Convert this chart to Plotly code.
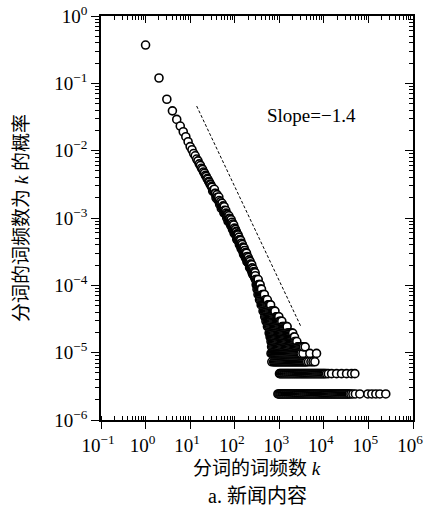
import plotly.graph_objects as go

# Number of distinct segmented words in the news corpus (normaliser for P(k))
N_WORDS = 410000

# Head of the distribution: word frequency k and how many words occur exactly k times
head_k = [1, 2, 3, 4, 5, 6, 7, 8, 9, 10,
          11, 12, 13, 14, 15, 16, 17, 18, 19, 20,
          21, 22, 23, 24, 25, 26, 27, 28, 29, 30, 31,
          33, 34, 36, 37, 39, 41, 43, 45, 47, 49, 51, 54, 56, 59, 61,
          62, 64, 65, 67, 68, 70, 72, 73, 75, 77, 79,
          80, 82, 84, 86, 88, 90, 92, 94, 96, 98, 100,
          102, 105, 107, 110, 112, 115, 117, 120, 122, 125,
          128, 131, 134, 137, 140, 143, 146, 150, 153, 156,
          160, 163, 167, 171, 174, 178, 182, 186, 190, 195,
          199, 204, 208, 213, 218, 223, 228, 233, 238, 243,
          248, 254, 260, 266, 272, 278, 284, 290]
head_n = [151700, 49200, 23800, 16000, 11950, 9520, 7830, 6610, 5570, 4710,
          4230, 3720, 3440, 3080, 2890, 2610, 2470, 2250, 2160, 1980,
          1900, 1760, 1700, 1580, 1540, 1430, 1395, 1305, 1280, 1200, 1180,
          1065, 1050, 955, 948, 866, 835, 768, 745, 688, 670, 622, 596, 553, 534, 498,
          512, 484, 455, 443, 462, 432, 396, 410, 405, 374, 352,
          367, 362, 336, 344, 322, 296, 304, 305, 276, 284, 268,
          246, 252, 258, 226, 238, 220, 198, 207, 205, 188,
          194, 176, 162, 170, 165, 160, 143, 144, 152, 135,
          126, 133, 115, 124, 117, 117, 101, 109, 104, 103,
          90, 96, 92, 90, 79, 84, 83, 79, 68, 74,
          73, 69, 60, 65, 64, 61, 55, 57]

# Remaining frequencies of the power-law band
band_k = [32, 35, 38, 40, 42, 44, 46, 48, 50, 52, 53, 55, 57, 58, 60,
          63, 66, 69, 71, 74, 76, 78, 81, 83, 85, 87, 89, 91, 93, 95, 97, 99,
          101, 104, 106, 109, 111, 114, 116, 119, 121, 124, 127, 130, 133, 136,
          139, 142, 145, 148, 152, 155, 158, 162, 165, 169, 173, 176, 180, 184,
          188, 193, 197, 201, 206, 211, 216, 221, 226, 231, 236, 241, 246, 251,
          257, 263, 269, 275, 281, 287]
band_n = [1031, 1094, 816, 911, 754, 840, 652, 714, 568, 678, 571, 620, 490, 603, 480,
          530, 413, 460, 365, 442, 355, 399, 320, 388, 316, 355, 279, 334, 271, 322, 244, 290,
          238, 278, 228, 255, 198, 234, 192, 230, 191, 213, 166, 195, 159, 191,
          144, 173, 143, 166, 130, 148, 118, 147, 118, 135, 106, 126, 105, 123,
          92, 110, 90, 106, 86, 98, 75, 93, 73, 85, 70, 83, 63, 74,
          59, 71, 57, 65, 53, 63]

# Tail: small word counts n and the frequencies k at which each count occurs
tail_levels = [50, 42, 36, 30, 25, 21, 17, 14, 12, 10, 8, 7, 6, 5, 4, 3, 2, 1]
tail_k = [
    [292, 309, 328, 336],
    [303, 321, 341, 360, 371],
    [316, 335, 356, 376, 399],
    [333, 354, 374, 397, 421, 446, 461],
    [360, 382, 406, 429, 455, 483, 511, 539],
    [392, 417, 441, 468, 495, 526, 556, 591, 625, 639],
    [432, 458, 486, 515, 547, 578, 614, 650, 690, 730, 775, 800],
    [471, 499, 530, 561, 596, 630, 669, 708, 752, 796, 845, 894, 949, 976],
    [502, 533, 564, 599, 634, 673, 712, 756, 800, 849, 899, 954, 1010, 1072, 1139],
    [542, 575, 609, 646, 684, 726, 769, 816, 864, 916, 970, 1030, 1090, 1157,
     1225, 1300, 1377, 1460, 1497],
    [592, 628, 665, 706, 747, 793, 839, 891, 943, 1001, 1060, 1124, 1191, 1263,
     1338, 1419, 1503, 1594, 1689, 1791, 1898, 1999],
    [622, 660, 699, 742, 785, 833, 882, 936, 991, 1052, 1114, 1182, 1252, 1328,
     1406, 1492, 1580, 1676, 1775, 1883, 1995, 2116, 2197],
    [652, 692, 733, 778, 823, 874, 925, 982, 1039, 1103, 1168, 1239, 1312, 1392,
     1474, 1564, 1657, 1757, 1861, 1974, 2091, 2218, 2350, 2477],
    [672, 713, 755, 801, 848, 900, 953, 1011, 1071, 1136, 1203, 1276, 1352, 1434,
     1519, 1611, 1707, 1810, 1918, 2034, 2155, 2285, 2421, 2567, 2720, 2884,
     3056, 3240, 3470, 3807],
    [652, 688, 726, 766, 808, 852, 899, 949, 1001, 1056, 1114, 1175, 1240, 1308,
     1380, 1456, 1536, 1620, 1709, 1803, 1902, 2007, 2117, 2234, 2356, 2486,
     2623, 2767, 2919, 3080, 3400, 4850, 6850],
    [680, 745, 786, 829, 875, 923, 974, 1027, 1084, 1143, 1206, 1272, 1342,
     1416, 1494, 1576, 1663, 1754, 1851, 1952, 2060, 2173, 2292, 2418, 2551,
     2692, 2840, 2996, 3161, 3334, 3518, 3711, 3915, 4130, 4520, 5130, 5700, 6300],
    [1010, 1063, 1127, 1183, 1255, 1318, 1396, 1467, 1554, 1633, 1729, 1818,
     1924, 2024, 2141, 2253, 2383, 2508, 2652, 2792, 2952, 3108, 3285, 3459,
     3656, 3850, 4068, 4286, 4528, 4771, 5039, 5310, 5608, 5911, 6242, 6579,
     6947, 7323, 7732, 8151, 8605, 9073, 9578, 10098, 10663, 11500, 12600,
     14900, 19300, 24900, 32300, 41800, 49600],
    [930, 979, 1036, 1090, 1155, 1213, 1280, 1357, 1425, 1509, 1586, 1680, 1766,
     1869, 1965, 2080, 2188, 2315, 2436, 2577, 2711, 2868, 3019, 3191, 3360,
     3552, 3740, 3953, 4162, 4399, 4633, 4897, 5157, 5449, 5741, 6066, 6390,
     6751, 7112, 7514, 7917, 8362, 8811, 9307, 9808, 10360, 10915, 11530,
     12150, 12832, 13524, 14281, 15052, 15895, 16755, 17690, 18648, 19690,
     20757, 21915, 23104, 24390, 25716, 27145, 28622, 30212, 31858, 33626,
     35460, 37426, 40500, 44800, 51000, 64100, 97000, 119000, 146600, 180000,
     245000],
]

# Power-law guide line
SLOPE = -1.4
fit_k = [14, 3100]
FIT_P0 = 0.046  # guide value at k = 14

x_ticks = [0.1, 1, 10, 100, 1000, 10000, 100000, 1000000]
x_ticktext = ["10<sup>−1</sup>", "10<sup>0</sup>", "10<sup>1</sup>", "10<sup>2</sup>",
              "10<sup>3</sup>", "10<sup>4</sup>", "10<sup>5</sup>", "10<sup>6</sup>"]
y_ticks = [1e-6, 1e-5, 1e-4, 1e-3, 1e-2, 1e-1, 1]
y_ticktext = ["10<sup>−6</sup>", "10<sup>−5</sup>", "10<sup>−4</sup>", "10<sup>−3</sup>",
              "10<sup>−2</sup>", "10<sup>−1</sup>", "10<sup>0</sup>"]

# Merge all (k, count) pairs, plotted in order of increasing frequency
points = list(zip(head_k, head_n)) + list(zip(band_k, band_n))
for n, row in zip(tail_levels, tail_k):
    points += [(k, n) for k in row]
points.sort(key=lambda t: t[0])
xs = [k for k, _ in points]
ys = [n / N_WORDS for _, n in points]

fit_p = [FIT_P0 * (k / fit_k[0]) ** SLOPE for k in fit_k]

SERIF = "Liberation Serif, serif"
MIXED = "Liberation Serif, Noto Sans CJK SC, serif"
W, H = 424, 508
L, R, T, B = 101, 11, 16, 88
PW, PH = W - L - R, H - T - B

fig = go.Figure()
fig.add_trace(go.Scatter(
    x=fit_k, y=fit_p, mode="lines",
    line=dict(color="black", width=1, dash="3px,2px"),
    hoverinfo="skip", showlegend=False))
fig.add_trace(go.Scatter(
    x=xs, y=ys, mode="markers",
    marker=dict(symbol="circle", size=8, color="white",
                line=dict(color="black", width=1.6)),
    showlegend=False))
# carrier for the mirrored top/right axes
fig.add_trace(go.Scatter(x=[None], y=[None], xaxis="x2", yaxis="y2",
                         showlegend=False, hoverinfo="skip"))

minor_in = dict(ticks="inside", ticklen=4, tickwidth=1, tickcolor="black",
                dtick="D1", showgrid=False)
minor_out = dict(ticks="outside", ticklen=4, tickwidth=1, tickcolor="black",
                 dtick="D1", showgrid=False)
common = dict(type="log", showline=True, linecolor="black", linewidth=1.5,
              showgrid=False, zeroline=False, tickcolor="black", tickwidth=1.2,
              tickmode="array", automargin=False)

fig.update_layout(
    width=W, height=H,
    margin=dict(l=L, r=R, t=T, b=B, autoexpand=False),
    paper_bgcolor="white", plot_bgcolor="white",
    showlegend=False,
    xaxis=dict(common, range=[-1, 6], tickvals=x_ticks, ticktext=x_ticktext,
               ticks="outside", ticklen=7, minor=minor_in,
               ticklabeloverflow="allow", ticklabelshift=-3,
               tickfont=dict(family=SERIF, size=19, color="black")),
    yaxis=dict(common, range=[-6, 0], tickvals=y_ticks, ticktext=y_ticktext,
               ticks="outside", ticklen=8, minor=minor_out,
               ticklabeloverflow="allow",
               tickfont=dict(family=SERIF, size=19, color="black")),
    xaxis2=dict(common, range=[-1, 6], tickvals=x_ticks, overlaying="x",
                side="top", anchor="y2", ticks="inside", ticklen=7,
                minor=minor_in, showticklabels=False),
    yaxis2=dict(common, range=[-6, 0], tickvals=y_ticks, overlaying="y",
                side="right", anchor="x2", ticks="inside", ticklen=8,
                minor=minor_in, showticklabels=False),
    annotations=[
        dict(text="Slope=−1.4", xref="paper", yref="paper",
             x=(311 - L) / PW, y=1 - (115 - T) / PH, showarrow=False,
             xanchor="center", yanchor="middle",
             font=dict(family=SERIF, size=19, color="black")),
        dict(text="分词的词频数为 <i>k</i> 的概率", xref="paper", yref="paper",
             x=(21 - L) / PW, y=0.5, textangle=-90, showarrow=False,
             xanchor="center", yanchor="middle",
             font=dict(family=MIXED, size=19, color="black")),
        dict(text="分词的词频数 <i>k</i>", xref="paper", yref="paper",
             x=0.5, y=-(469 - T - PH) / PH, showarrow=False,
             xanchor="center", yanchor="middle",
             font=dict(family=MIXED, size=19, color="black")),
        dict(text="a. 新闻内容", xref="paper", yref="paper",
             x=0.5, y=-(496 - T - PH) / PH, showarrow=False,
             xanchor="center", yanchor="middle",
             font=dict(family=MIXED, size=20, color="black")),
    ],
)

fig.write_html("out.html")
